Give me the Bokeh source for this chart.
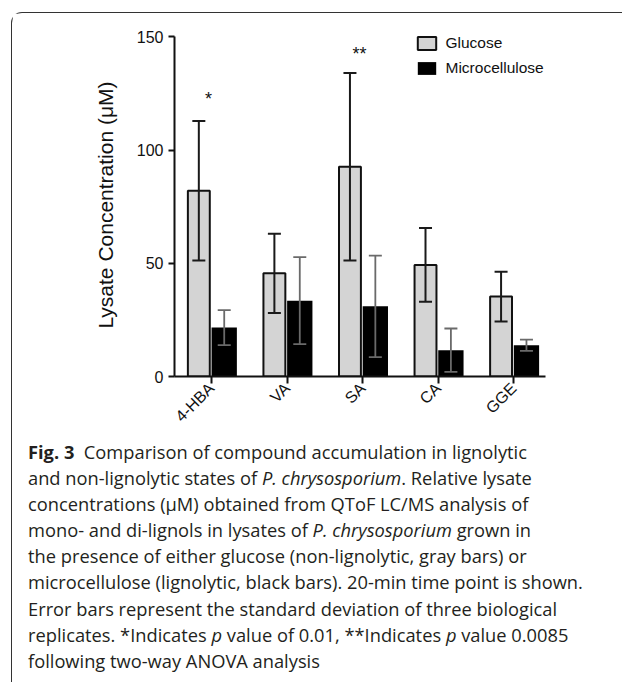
import numpy as np
from bokeh.plotting import figure
from bokeh.models import (ColumnDataSource, Whisker, TeeHead, FixedTicker, Legend,
                          LegendItem, Div)
from bokeh.layouts import column
from bokeh.core.properties import value
from bokeh.embed import file_html
from bokeh.resources import INLINE

# ---------------- data ----------------
compounds = ["4-HBA", "VA", "SA", "CA", "GGE"]
glucose_mean = [82.0, 45.6, 92.6, 49.3, 35.3]
glucose_sd = [30.8, 17.5, 41.4, 16.3, 11.0]
micro_mean = [21.6, 33.5, 31.0, 11.6, 13.8]
micro_sd = [7.7, 19.2, 22.4, 9.6, 2.5]
series_names = ["Glucose", "Microcellulose"]
star_labels = ["*", "**"]
star_compounds = ["4-HBA", "SA"]
star_heights = [122.5, 142.5]
y_ticks = [0, 50, 100, 150]
y_label = "Lysate Concentration (\u03bcM)"

caption_lines = [
    "<b>Fig. 3</b>&nbsp; Comparison of compound accumulation in lignolytic",
    "and non-lignolytic states of <i>P. chrysosporium</i>. Relative lysate",
    "concentrations (\u03bcM) obtained from QToF LC/MS analysis of",
    "mono- and di-lignols in lysates of <i>P. chrysosporium</i> grown in",
    "the presence of either glucose (non-lignolytic, gray bars) or",
    "microcellulose (lignolytic, black bars). 20-min time point is shown.",
    "Error bars represent the standard deviation of three biological",
    "replicates. *Indicates <i>p</i> value of 0.01, **Indicates <i>p</i> value 0.0085",
    "following two-way ANOVA analysis",
]

# ---------------- build ----------------
x = np.arange(len(compounds))
gm = np.array(glucose_mean); gs = np.array(glucose_sd)
mm = np.array(micro_mean); ms = np.array(micro_sd)
off = 0.168
src = ColumnDataSource(dict(
    xg=x - off, xm=x + off,
    g=gm, gu=gm + gs, gl=gm - gs,
    m=mm, mu=mm + ms, ml=mm - ms,
))

FONT = "Liberation Sans"
y_top = y_ticks[-1]

p = figure(width=606, height=421, x_range=(-0.49, 4.42), y_range=(0, y_top + 1.5),
           output_backend="svg", toolbar_location=None,
           min_border_left=162, min_border_right=73,
           min_border_top=20, min_border_bottom=58)
p.outline_line_color = None
p.xgrid.visible = False
p.ygrid.visible = False

rg = p.vbar(x="xg", top="g", bottom=0, width=0.29, source=src,
            fill_color="#d4d4d4", line_color="#111111", line_width=2)
rm = p.vbar(x="xm", top="m", bottom=0, width=0.335, source=src,
            fill_color="#000000", line_color=None)

wg = Whisker(source=src, base="xg", upper="gu", lower="gl",
             line_color="#1a1a1a", line_width=2, level="overlay",
             upper_head=TeeHead(size=13, line_color="#1a1a1a", line_width=2),
             lower_head=TeeHead(size=13, line_color="#1a1a1a", line_width=2))
wm = Whisker(source=src, base="xm", upper="mu", lower="ml",
             line_color="#6a6a6a", line_width=1.8, level="overlay",
             upper_head=TeeHead(size=13, line_color="#6a6a6a", line_width=1.8),
             lower_head=TeeHead(size=13, line_color="#6a6a6a", line_width=1.8))
p.add_layout(wg)
p.add_layout(wm)

star_x = [compounds.index(c) - 0.04 for c in star_compounds]
p.text(x=star_x, y=star_heights, text=star_labels, text_align="center",
       text_baseline="alphabetic", text_font=value(FONT),
       text_font_size="18px", text_color="#111111")

# axes
for ax in (p.xaxis[0], p.yaxis[0]):
    ax.axis_line_width = 2
    ax.axis_line_color = "#111111"
    ax.major_tick_line_width = 2
    ax.major_tick_line_color = "#111111"
    ax.major_tick_in = 0
    ax.minor_tick_line_color = None
    ax.major_label_text_font = FONT
    ax.major_label_text_font_size = "16px"
    ax.major_label_text_color = "#111111"

p.yaxis.ticker = FixedTicker(ticks=y_ticks)
p.yaxis.bounds = (0, y_top)
p.yaxis.major_tick_out = 6
p.yaxis.major_label_standoff = 5
p.yaxis.axis_label = y_label
p.yaxis.axis_label_text_font = FONT
p.yaxis.axis_label_text_font_style = "normal"
p.yaxis.axis_label_text_font_size = "21px"
p.yaxis.axis_label_text_color = "#111111"
p.yaxis.axis_label_standoff = 17

p.xaxis.ticker = FixedTicker(ticks=list(x))
p.xaxis.major_label_overrides = {int(i): c for i, c in zip(x, compounds)}
p.xaxis.major_label_orientation = np.pi / 4
p.xaxis.major_tick_out = 7
p.xaxis.major_label_standoff = 2

legend = Legend(items=[LegendItem(label=series_names[0], renderers=[rg]),
                       LegendItem(label=series_names[1], renderers=[rm])],
                location=(240.5, 299), glyph_width=23, glyph_height=16,
                label_height=16, label_standoff=8, spacing=7, padding=0, margin=0,
                border_line_color=None, background_fill_alpha=0,
                label_text_font=FONT, label_text_font_size="15.5px",
                label_text_color="#111111")
p.add_layout(legend)

caption_html = ('<div style="font-family:\'Open Sans\';font-size:18.3px;line-height:26.1px;'
                'color:#231f20;white-space:nowrap;padding:0 0 0 11px;">'
                + "<br>".join(caption_lines) + "</div>")
cap = Div(text=caption_html, width=600, height=238)

layout = column(p, cap, margin=(12, 0, 0, 11),
                styles={"border-top": "1.5px solid #333333",
                        "border-left": "1.5px solid #333333",
                        "border-top-left-radius": "11px"})

open("out.html", "w").write(file_html(layout, INLINE))
